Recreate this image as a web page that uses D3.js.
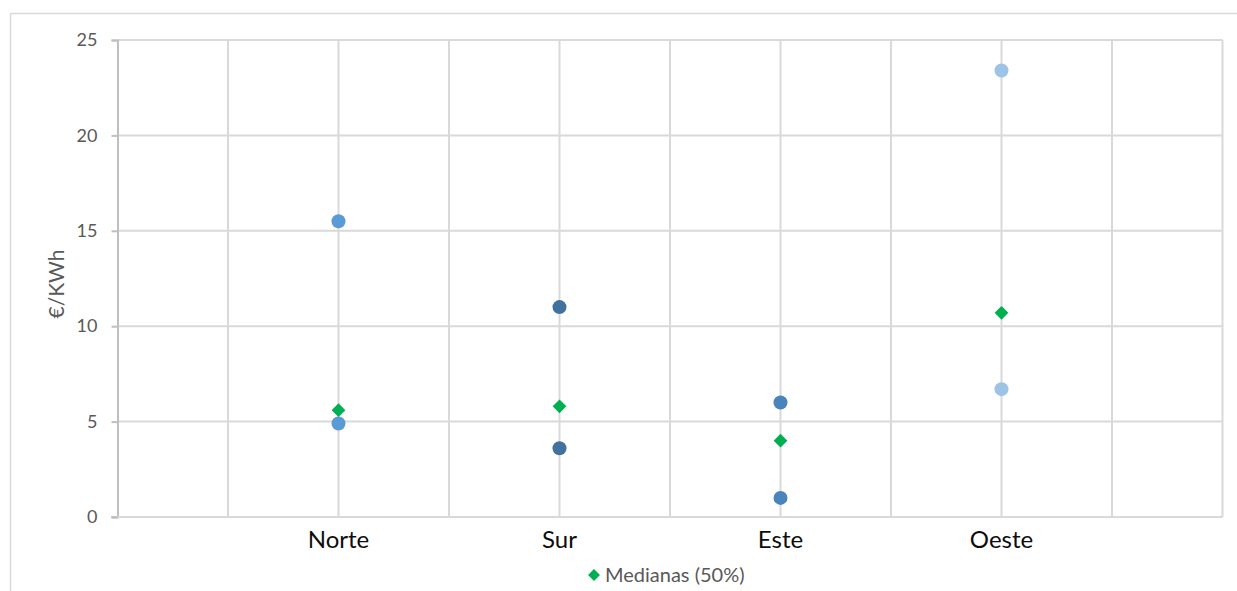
<!DOCTYPE html>
<html>
<head>
<meta charset="utf-8">
<script src="https://cdn.jsdelivr.net/npm/d3@7/dist/d3.min.js"></script>
<style>
  html, body { margin: 0; padding: 0; background: #fff; }
  svg { display: block; font-family: Lato, "Open Sans", sans-serif; }
</style>
</head>
<body>
<svg id="chart" width="1237" height="591"></svg>
<script>
// Regions shown on the horizontal axis
const categories = ["Norte", "Sur", "Este", "Oeste"];
// Upper and lower point per region (€/KWh)
const highValues = [15.5, 11.0, 6.0, 23.4];
const lowValues = [4.9, 3.6, 1.0, 6.7];
// Median per region
const medianValues = [5.6, 5.8, 4.0, 10.7];
// Point colour per region
const regionColors = ["#5b9bd5", "#41719c", "#4a84bc", "#9dc3e6"];
// Y axis ticks
const yTicks = [0, 5, 10, 15, 20, 25];
const yLabel = "€/KWh";
const legendLabel = "Medianas (50%)";

const svg = d3.select("#chart");

// Outer chart frame (top and left edges)
svg.append("path")
  .attr("d", "M10.5,591 V13.5 H1237")
  .attr("fill", "none").attr("stroke", "#d9d9d9").attr("stroke-width", 1.5);

const plot = { left: 117.5, right: 1222.5, top: 40, bottom: 517 };

// Categories sit on integer positions of a 0..5 axis; gridlines every half unit
const x = d3.scaleLinear().domain([0, 5]).range([plot.left, plot.right]);
const y = d3.scaleLinear().domain([0, 25]).range([plot.bottom, plot.top]);

const g = svg.append("g");

// Horizontal gridlines
g.selectAll("line.hgrid").data(yTicks.filter(d => d > 0)).join("line")
  .attr("class", "hgrid")
  .attr("x1", plot.left).attr("x2", plot.right)
  .attr("y1", d => y(d)).attr("y2", d => y(d))
  .attr("stroke", "#d9d9d9").attr("stroke-width", 2);

// Vertical gridlines
const vGrid = d3.range(1, 11).map(i => i * 0.5);
g.selectAll("line.vgrid").data(vGrid).join("line")
  .attr("class", "vgrid")
  .attr("x1", d => x(d)).attr("x2", d => x(d))
  .attr("y1", plot.top).attr("y2", plot.bottom)
  .attr("stroke", "#d9d9d9").attr("stroke-width", 2);

// Y axis with tick labels
const yAxis = d3.axisLeft(y).tickValues(yTicks).tickSize(6).tickPadding(14);
const ya = svg.append("g").attr("transform", `translate(${plot.left},0)`).call(yAxis);
ya.select(".domain").attr("stroke", "#bfbfbf").attr("stroke-width", 2);
ya.selectAll(".tick line").attr("stroke", "#bfbfbf").attr("stroke-width", 2);
ya.selectAll(".tick text")
  .attr("fill", "#595959").attr("font-size", 18)
  .attr("font-family", "Lato, sans-serif");

// X axis baseline
svg.append("line")
  .attr("x1", plot.left - 6).attr("x2", plot.right)
  .attr("y1", y(0)).attr("y2", y(0))
  .attr("stroke", "#d9d9d9").attr("stroke-width", 2);
svg.append("line")
  .attr("x1", plot.left - 6).attr("x2", plot.left)
  .attr("y1", y(0)).attr("y2", y(0))
  .attr("stroke", "#bfbfbf").attr("stroke-width", 2);

// Category labels
svg.selectAll("text.cat").data(categories).join("text")
  .attr("class", "cat")
  .attr("x", (d, i) => x(i + 1)).attr("y", 548)
  .attr("text-anchor", "middle")
  .attr("font-size", 24).attr("fill", "#0d0d0d")
  .text(d => d);

// Y axis title
svg.append("text")
  .attr("transform", "translate(64,284) rotate(-90)")
  .attr("text-anchor", "middle")
  .attr("font-size", 21).attr("fill", "#595959")
  .text(yLabel);

// High and low points
const points = [];
categories.forEach((c, i) => {
  points.push({ i, v: highValues[i], color: regionColors[i] });
  points.push({ i, v: lowValues[i], color: regionColors[i] });
});
g.selectAll("circle.pt").data(points).join("circle")
  .attr("class", "pt")
  .attr("cx", d => x(d.i + 1)).attr("cy", d => y(d.v))
  .attr("r", 7)
  .attr("fill", d => d.color);

// Median diamonds
const diamond = d3.symbol().type(d3.symbolDiamond2).size(120);
g.selectAll("path.med").data(medianValues).join("path")
  .attr("class", "med")
  .attr("transform", (d, i) => `translate(${x(i + 1)},${y(d)})`)
  .attr("d", diamond)
  .attr("fill", "#00b050");

// Legend
const lg = svg.append("g").attr("transform", "translate(594,575)");
lg.append("path").attr("d", d3.symbol().type(d3.symbolDiamond2).size(90)).attr("fill", "#00b050");
lg.append("text").attr("x", 11).attr("y", 7)
  .attr("font-size", 20).attr("fill", "#595959")
  .text(legendLabel);
</script>
</body>
</html>
